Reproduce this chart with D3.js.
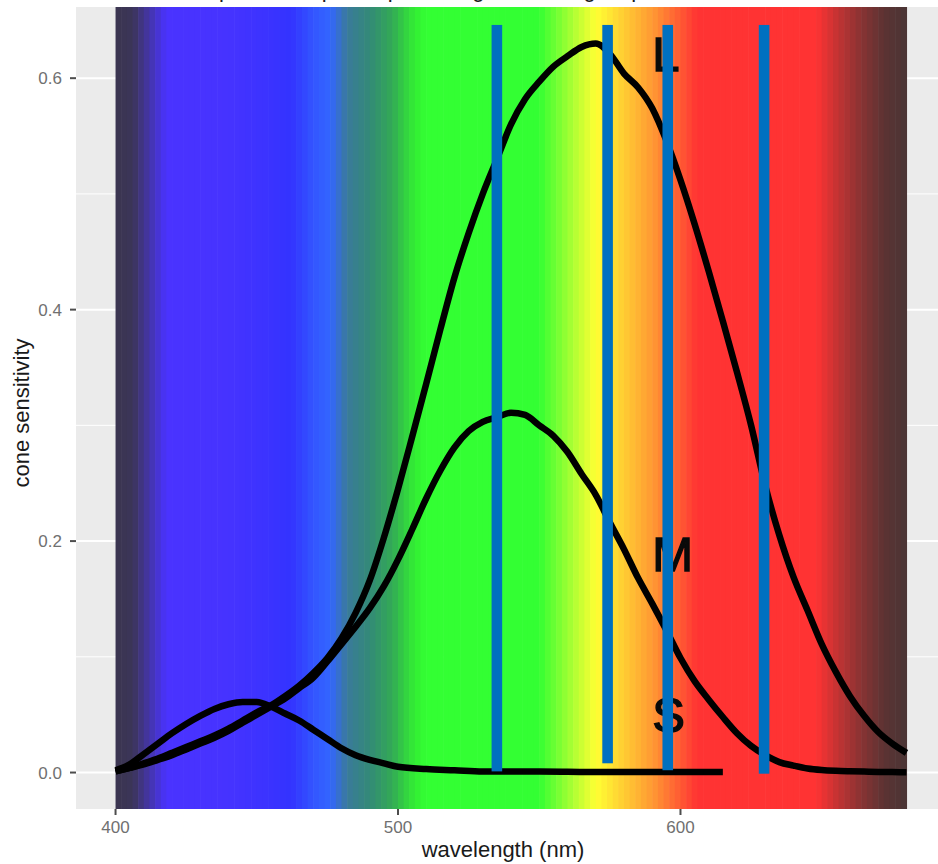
<!DOCTYPE html>
<html>
<head>
<meta charset="utf-8">
<script src="https://cdn.jsdelivr.net/npm/d3@7"></script>
<style>
  html, body { margin: 0; padding: 0; background: #ffffff; }
  svg { display: block; }
  text { font-family: "Liberation Sans", Arial, sans-serif; }
</style>
</head>
<body>
<svg id="chart" width="938" height="864"></svg>
<script>
// ---------------- data ----------------
const wavelengths = [400,405,410,415,420,425,430,435,440,445,450,455,460,465,470,475,480,485,490,495,
  500,505,510,515,520,525,530,535,540,545,550,555,560,565,570,575,580,585,590,595,
  600,605,610,615,620,625,630,635,640,645,650,655,660,665,670,675,680];

const coneL = [0.001,0.004,0.008,0.012,0.017,0.022,0.027,0.032,0.038,0.045,0.052,0.058,0.066,0.075,0.086,0.099,0.116,0.138,0.166,0.203,
  0.245,0.290,0.336,0.383,0.428,0.466,0.500,0.530,0.560,0.582,0.597,0.610,0.619,0.627,0.630,0.621,0.604,0.592,0.574,0.546,
  0.512,0.474,0.433,0.390,0.346,0.300,0.248,0.205,0.169,0.140,0.111,0.087,0.066,0.049,0.035,0.025,0.017];

const coneM = [0.001,0.004,0.007,0.011,0.015,0.020,0.025,0.030,0.036,0.043,0.050,0.057,0.064,0.073,0.082,0.096,0.111,0.126,0.142,0.161,
  0.184,0.210,0.237,0.261,0.281,0.295,0.303,0.307,0.311,0.309,0.300,0.291,0.277,0.258,0.240,0.216,0.193,0.168,0.146,0.123,
  0.099,0.079,0.063,0.048,0.034,0.023,0.015,0.009,0.006,0.0035,0.0022,0.0015,0.0011,0.0008,0.0005,0.0004,0.0003];

const sWavelengths = [400,405,410,415,420,425,430,435,440,445,450,455,460,465,470,475,480,485,490,495,
  500,510,520,530,540,550,560,570,580,590,600,615];
const coneS = [0.002,0.007,0.016,0.025,0.034,0.042,0.049,0.055,0.059,0.061,0.061,0.057,0.051,0.045,0.037,0.029,0.021,0.015,0.011,0.008,
  0.005,0.003,0.002,0.001,0.001,0.0008,0.0006,0.0005,0.0005,0.0004,0.0004,0.0004];

// visible-spectrum colour stops (background)
const spectrumStopNm = [400,406,412,418,440,455,462,470,476,482,490,498,506,510,550,560,570,580,590,598,606,648,656,664,672,680];
const spectrumStopColor = ["#3b3550","#3b3558","#4435a8","#4a33ff","#4633ff","#3a33ff","#3333ff","#3355ff","#3366ff","#3a7a9a",
  "#338a77","#33aa55","#33ee33","#33ff33","#33ff33","#99ff33","#ffff33","#ffcc33","#ff9933","#ff6633","#ff3333","#ff3333",
  "#c03333","#883333","#5c3333","#4a3535"];
const spectrumStep = 2; // nm per strip

// labels
const coneLabels = ["L","M","S"];
const coneLabelNm = [590, 590, 590];
const coneLabelValue = [0.606, 0.174, 0.035];

// blue marker bars (overlay annotations)
const markerNm = [535, 574.2, 595.5, 629.6];
const markerTop = [0.646, 0.646, 0.646, 0.646];
const markerBottom = [0.001, 0.008, 0.002, -0.001];

// axes
const xTicks = [400, 500, 600];
const yTicks = [0.0, 0.2, 0.4, 0.6];
const yMinor = [0.1, 0.3, 0.5];
const xTitle = "wavelength (nm)";
const yTitle = "cone sensitivity";
const chartTitle = "Cone spectral response plotted against the light spectrum";

// ---------------- layout ----------------
const svg = d3.select("#chart");
const panel = {left: 76, right: 946, top: 7, bottom: 809};

const x = d3.scaleLinear().domain([386, 694]).range([panel.left, panel.right]);
const y = d3.scaleLinear().domain([-0.0315, 0.6615]).range([panel.bottom, panel.top]);

// title (cropped by the top edge in the reference; only descenders show)
svg.append("text").attr("x", 430).attr("y", -3).attr("text-anchor", "middle")
  .attr("font-size", 22).attr("fill", "#1a1a1a").text(chartTitle);

// panel background
svg.append("rect").attr("x", panel.left).attr("y", panel.top)
  .attr("width", panel.right - panel.left).attr("height", panel.bottom - panel.top)
  .attr("fill", "#ebebeb");

// gridlines
const gGrid = svg.append("g");
gGrid.selectAll("line.ymin").data(yMinor).join("line")
  .attr("x1", panel.left).attr("x2", panel.right)
  .attr("y1", d => y(d)).attr("y2", d => y(d))
  .attr("stroke", "#ffffff").attr("stroke-width", 1);
gGrid.selectAll("line.ymaj").data(yTicks).join("line")
  .attr("x1", panel.left).attr("x2", panel.right)
  .attr("y1", d => y(d)).attr("y2", d => y(d))
  .attr("stroke", "#ffffff").attr("stroke-width", 2);

// spectrum background strips
const specColor = d3.scaleLinear().domain(spectrumStopNm).range(spectrumStopColor).interpolate(d3.interpolateRgb);
const strips = d3.range(400, 680, spectrumStep);
svg.append("g").selectAll("rect").data(strips).join("rect")
  .attr("x", d => x(d))
  .attr("width", d => x(Math.min(d + spectrumStep, 680)) - x(d) + 0.6)
  .attr("y", panel.top).attr("height", panel.bottom - panel.top)
  .attr("fill", d => specColor(d + spectrumStep / 2));

// cone curves
const line = d3.line().x(d => x(d[0])).y(d => y(d[1])).curve(d3.curveMonotoneX);
const series = [
  d3.zip(wavelengths, coneL),
  d3.zip(wavelengths, coneM),
  d3.zip(sWavelengths, coneS)
];
svg.append("g").selectAll("path").data(series).join("path")
  .attr("d", line)
  .attr("fill", "none").attr("stroke", "#000000").attr("stroke-width", 6.5)
  .attr("stroke-linejoin", "round").attr("stroke-linecap", "butt");

// cone labels
svg.append("g").selectAll("text").data(coneLabels).join("text")
  .attr("x", (d, i) => x(coneLabelNm[i]))
  .attr("y", (d, i) => y(coneLabelValue[i]))
  .attr("font-size", 49).attr("fill", "#0a0a0a")
  .attr("stroke", "#0a0a0a").attr("stroke-width", 1.4)
  .text(d => d);

// blue marker bars
svg.append("g").selectAll("rect").data(markerNm).join("rect")
  .attr("x", d => x(d) - 5.3).attr("width", 10.6)
  .attr("y", (d, i) => y(markerTop[i]))
  .attr("height", (d, i) => y(markerBottom[i]) - y(markerTop[i]))
  .attr("fill", "#0070c0");

// y axis
const gy = svg.append("g");
gy.selectAll("line").data(yTicks).join("line")
  .attr("x1", panel.left - 6).attr("x2", panel.left)
  .attr("y1", d => y(d)).attr("y2", d => y(d))
  .attr("stroke", "#4d4d4d").attr("stroke-width", 2);
gy.selectAll("text").data(yTicks).join("text")
  .attr("x", panel.left - 14).attr("y", d => y(d) + 6)
  .attr("text-anchor", "end").attr("font-size", 17).attr("fill", "#707070")
  .text(d => d3.format(".1f")(d));

// x axis
const gx = svg.append("g");
gx.selectAll("line").data(xTicks).join("line")
  .attr("x1", d => x(d)).attr("x2", d => x(d))
  .attr("y1", panel.bottom).attr("y2", panel.bottom + 6)
  .attr("stroke", "#4d4d4d").attr("stroke-width", 2);
gx.selectAll("text").data(xTicks).join("text")
  .attr("x", d => x(d)).attr("y", panel.bottom + 24)
  .attr("text-anchor", "middle").attr("font-size", 17).attr("fill", "#707070")
  .text(d => d);

// axis titles
svg.append("text").attr("x", 503).attr("y", 857)
  .attr("text-anchor", "middle").attr("font-size", 22).attr("fill", "#1a1a1a")
  .text(xTitle);
svg.append("text").attr("transform", "translate(29,413) rotate(-90)")
  .attr("text-anchor", "middle").attr("font-size", 22).attr("fill", "#1a1a1a")
  .text(yTitle);
</script>
</body>
</html>
